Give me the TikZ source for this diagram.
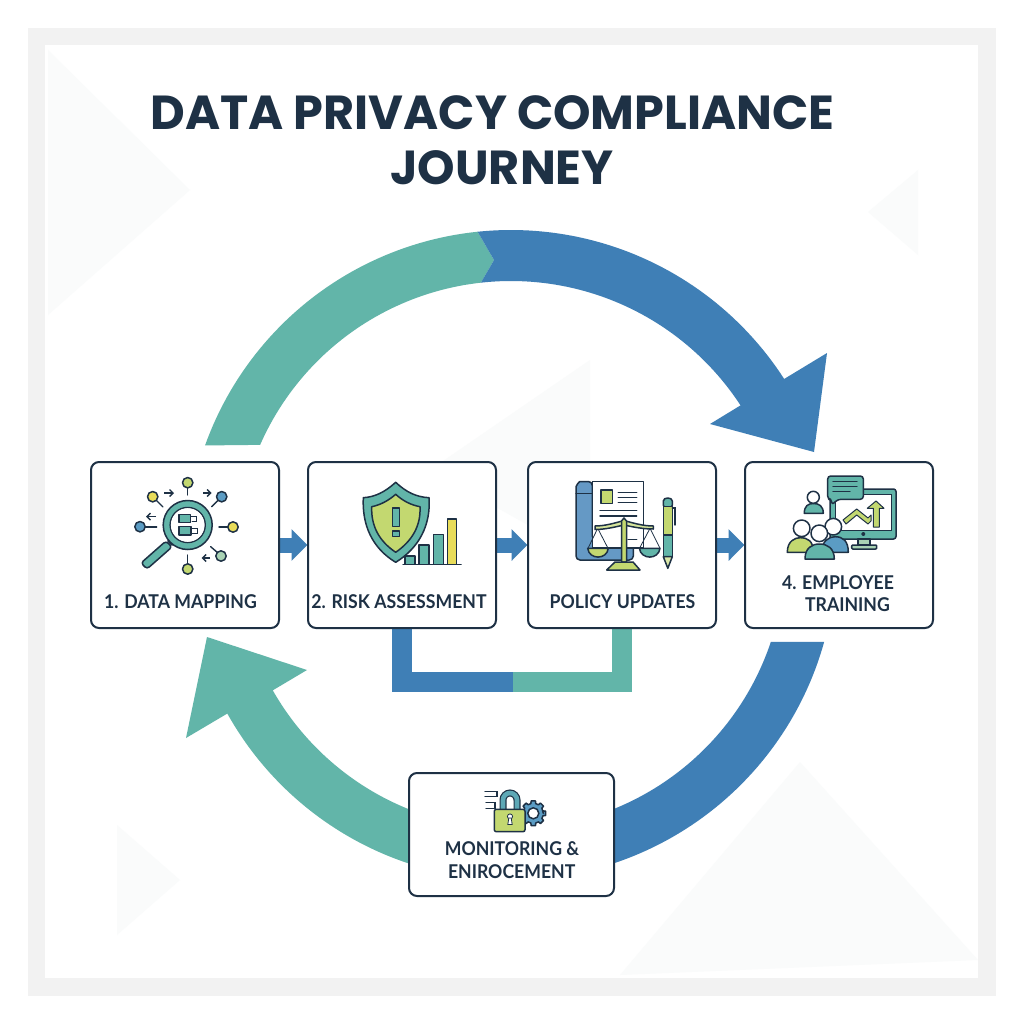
\documentclass[tikz,border=0pt]{standalone}
\usepackage{fontspec}
\setmainfont{Lato}[FakeStretch=0.93]
\newfontfamily\titlefont{Poppins}
\usetikzlibrary{arrows.meta,calc}
\pgfdeclarelayer{boxlayer}
\pgfsetlayers{main,boxlayer}
\definecolor{ink}{HTML}{1E3145}
\definecolor{tealc}{HTML}{62B5A9}
\definecolor{bluec}{HTML}{3F7FB6}
\definecolor{midblue}{HTML}{5B9CC4}
\definecolor{limec}{HTML}{C3D870}
\definecolor{yellowc}{HTML}{E8DC5A}
\definecolor{paleg}{HTML}{A9D3B4}
\definecolor{framec}{HTML}{F2F2F2}
\definecolor{ghost}{HTML}{FAFBFB}
\tikzset{
  x=1pt,y=-1pt,
  box/.style={draw=ink,line width=2pt,fill=white,rounded corners=8pt,inner sep=0pt,minimum height=166pt,minimum width=188pt},
  lab/.style={text=ink,font=\fontsize{19}{23}\selectfont\bfseries,inner sep=0pt,anchor=center},
  ttl/.style={text=ink,font=\titlefont\fontsize{47.7}{56}\selectfont\bfseries,inner sep=0pt,anchor=center},
  flow/.style={draw=bluec,line width=15pt,-{Triangle[length=16pt,width=31pt]},shorten >=-0.5pt},
  bar/.style={line width=20pt,line join=miter},
  ic/.style={draw=ink,line width=1.5pt,line join=round,line cap=round},
  lnk/.style={draw=ink,line width=1.4pt,line cap=round},
  sarr/.style={draw=ink,line width=1.4pt,-{Straight Barb[length=3.5pt,width=7pt]}}
}
\newcommand{\pinmark}[3]{\draw[ic,fill=#3] (#1,#2) circle (5.2);}
\begin{document}
\begin{tikzpicture}
\useasboundingbox (0,0) rectangle (1024,1024);
\fill[white] (0,0) rectangle (1024,1024);
\fill[framec] (28,28) rectangle (996,996);
\fill[white] (45,45) rectangle (978,978);
% faint background shapes
\fill[ghost] (48,50) -- (190,190) -- (48,315) -- cycle;
\fill[ghost] (918,170) -- (918,255) -- (868,212) -- cycle;
\fill[ghost] (800,762) -- (978,960) -- (620,975) -- cycle;
\fill[ghost] (590,360) -- (590,560) -- (430,470) -- cycle;
\fill[ghost] (117,825) -- (180,880) -- (117,935) -- cycle;
% title
\node[ttl] (title1) at (492.5,113) {DATA PRIVACY COMPLIANCE};
\node[ttl] (title2) at (502,168) {JOURNEY};
% big cycle
\def\cx{511}\def\cy{555}
\coordinate (chev) at (494,260);
\fill[tealc] plot[domain=160.3:95.9,samples=50] ({\cx+325*cos(\x)},{\cy-325*sin(\x)}) -- (chev)
  -- plot[domain=96.3:156.3,samples=50] ({\cx+274*cos(\x)},{\cy-274*sin(\x)}) -- cycle;
\fill[bluec] plot[domain=95.9:32.8,samples=50] ({\cx+325*cos(\x)},{\cy-325*sin(\x)})
  -- (827,353) -- (814,452) -- (710,424)
  -- plot[domain=33.1:96.3,samples=50] ({\cx+274*cos(\x)},{\cy-274*sin(\x)}) -- (chev) -- cycle;
\fill[bluec] plot[domain=-15.5:-78,samples=50] ({\cx+325*cos(\x)},{\cy-325*sin(\x)})
  -- plot[domain=-78:-18.5,samples=50] ({\cx+274*cos(\x)},{\cy-274*sin(\x)}) -- cycle;
\fill[tealc] plot[domain=-102:-150.8,samples=50] ({\cx+325*cos(\x)},{\cy-325*sin(\x)})
  -- (186,738) -- (207,637) -- (307,670)
  -- plot[domain=-150.4:-102,samples=50] ({\cx+274*cos(\x)},{\cy-274*sin(\x)}) -- cycle;
\begin{pgfonlayer}{boxlayer}
% boxes
\node[box] (n1) at (185,545) {};
\node[box] (n2) at (402,545) {};
\node[box] (n3) at (622,545) {};
\node[box] (n4) at (839,545) {};
\node[box,minimum width=205pt,minimum height=123pt] (n5) at (511.5,834.5) {};
\end{pgfonlayer}
% connectors
\coordinate (mid) at (513,682);
\draw[bar,draw=tealc] (n3.south) |- (mid);
\draw[bar,draw=bluec] (n2.south) |- (mid);
\draw[flow] (n1.east) -- (n2.west);
\draw[flow] (n2.east) -- (n3.west);
\draw[flow] (n3.east) -- (n4.west);
\begin{pgfonlayer}{boxlayer}
% labels
\node[lab] (t1) at (180.5,602) {1. DATA MAPPING};
\node[lab] (t2) at (399,602) {2. RISK ASSESSMENT};
\node[lab] (t3) at (622.5,602) {POLICY UPDATES};
\node[lab] (t4a) at (838,583) {4. EMPLOYEE};
\node[lab] (t4b) at (847.5,605) {TRAINING};
\node[lab] (t5a) at (512,849) {MONITORING \&};
\node[lab] (t5b) at (511.7,871.5) {ENIROCEMENT};
% --- icon 1: magnifier
\foreach \a/\b/\c/\d in {187.7/495/187.7/487,163/507/155.5/499.5,211.7/506.7/219/499.5,156.7/527/145/527,219/527/228.5/527,210.7/546.7/218/553,187.7/555/187.7/564}{
  \draw[lnk] (\a,\b) -- (\c,\d);
}
\pinmark{187.7}{482.7}{limec}
\pinmark{152.7}{496.7}{yellowc}
\pinmark{221.7}{496.7}{midblue}
\pinmark{140}{526.7}{midblue}
\pinmark{233}{527}{yellowc}
\pinmark{221}{556}{paleg}
\pinmark{187.7}{569}{limec}
\draw[sarr] (164,493) -- (174,493);
\draw[sarr] (203.3,493) -- (211.7,493);
\draw[sarr] (156,516.7) -- (146,516.7);
\draw[sarr] (210,558) -- (201.7,558);
\draw[ic,fill=tealc,rounded corners=3pt] (166,541) -- (172,547) -- (147,569) -- (141,563) -- cycle;
\draw[ic,fill=white] (168,541) -- (172,545) -- (176,542) -- (172,537) -- cycle;
\draw[ic,fill=tealc,even odd rule] (187.7,525) circle (24.5) (187.7,525) circle (17.5);
\fill[white] (187.7,525) circle (16.8);
\draw[ic,fill=tealc] (179,514.5) rectangle (190.5,522.5);
\draw[ic,fill=tealc] (179,526.5) rectangle (191,535);
\draw[lnk,line width=1pt] (191,516) -- (196,516) -- (196,521) -- (192,521);
\draw[lnk,line width=1pt] (191,528) -- (197,528) -- (197,533) -- (192,533);
% --- icon 2: shield and bars
\draw[ic,fill=tealc] (395.7,482.3) .. controls (385,492) and (375,497) .. (363.3,497.7)
  .. controls (362,525) and (372,548) .. (395.7,562.3)
  .. controls (419,548) and (431,525) .. (429,497.7)
  .. controls (416,497) and (406,492) .. (395.7,482.3) -- cycle;
\draw[ic,fill=limec] (395.7,494.3) .. controls (388,501) and (380,505) .. (371.7,506.7)
  .. controls (371,526) and (379,541) .. (395.7,552.3)
  .. controls (412,541) and (421,526) .. (420,506.7)
  .. controls (411,505) and (403,501) .. (395.7,494.3) -- cycle;
\draw[ic,fill=tealc] (392.7,508) rectangle (399.3,526.7);
\draw[ic,fill=tealc] (392.7,531) rectangle (399.3,536.7);
\draw[ic,fill=tealc] (405,556) rectangle (415,564.3);
\draw[ic,fill=tealc] (419,545) rectangle (429,564.3);
\draw[ic,fill=tealc] (433.3,534.3) rectangle (443.3,564.3);
\draw[ic,fill=yellowc] (447.3,519) rectangle (456.7,564.3);
\draw[ic] (403,564.3) -- (461,564.3);
% --- icon 3: document, scales, pen
\draw[ic,fill=bluec!80!white,rounded corners=4pt] (592.3,481.5) -- (584,481.5) .. controls (579,481.5) and (576,486) .. (576,491) -- (576,560) -- (633.3,560) -- (633.3,540) -- (592.3,540) -- cycle;
\draw[ic] (576,493.3) -- (592.3,493.3);
\draw[ic,fill=white] (592.3,481.7) rectangle (643.3,548);
\draw[ic,fill=limec] (601,490) rectangle (612.7,503.3);
\foreach \yy in {492.7,497.7,502.7}{\draw[lnk] (618.3,\yy) -- (636.7,\yy);}
\foreach \yy in {510.7,516}{\draw[lnk] (600,\yy) -- (636.7,\yy);}
\draw[lnk] (628,539.3) -- (636.7,539.3);
\draw[lnk,line width=.8pt] (597.7,528.3) -- (588,548.3) (597.7,528.3) -- (608,548.3);
\draw[lnk,line width=.8pt] (650,528.3) -- (639.5,548.3) (650,528.3) -- (660,548.3);
\draw[ic,fill=limec] (587.7,548.3) .. controls (589,560) and (607,560) .. (608.3,548.3) -- cycle;
\draw[ic,fill=tealc] (639.3,548.3) .. controls (641,560) and (658.5,560) .. (660,548.3) -- cycle;
\draw[ic,fill=limec!70!white] (595,526) .. controls (605,526) and (615,523) .. (624,520.5) .. controls (633,523) and (643,526) .. (653.3,526) -- (653.3,529) .. controls (643,529) and (633,527) .. (624,525) .. controls (615,527) and (605,529.5) .. (595,529.5) -- cycle;
\draw[ic,fill=limec] (621.5,521) -- (624,518) -- (626.5,521) -- (626.5,562) -- (621.5,562) -- cycle;
\draw[ic,fill=limec] (615,562) -- (633,562) -- (640,570) -- (606.7,570) -- cycle;
\draw[ic,fill=tealc,rounded corners=2pt] (663.3,503) .. controls (663.3,497) and (672.3,497) .. (672.3,503) -- (672.3,507) -- (663.3,507) -- cycle;
\draw[ic,fill=limec] (663.3,506.7) rectangle (672.3,535);
\draw[ic,fill=tealc] (663.3,535) rectangle (672.3,556.7);
\draw[ic,fill=limec!60!white] (663.3,556.7) -- (672.3,556.7) -- (667.8,568.3) -- cycle;
\draw[lnk] (672.3,508) -- (675,508) -- (675,525);
% --- icon 4: training
\draw[ic,fill=tealc,rounded corners=2.5pt] (830,489) rectangle (896,539);
\fill[white] (835,494.3) rectangle (891,530);
\draw[lnk,line width=.9pt] (835,494.3) rectangle (891,530);
\draw[ic,fill=white] (863.3,534) circle (1.4);
\draw[ic,fill=paleg] (858,539) rectangle (870,545);
\draw[ic,fill=paleg,rounded corners=1pt] (851.7,545) rectangle (876.7,549);
\draw[ic,fill=tealc,rounded corners=3pt] (827.7,476) -- (863.3,476) -- (863.3,499.3) -- (838,499.3) -- (831.7,505) -- (831.7,499.3) -- (827.7,499.3) -- cycle;
\draw[lnk] (833,481.7) -- (857,481.7) (833,486.7) -- (857,486.7) (833,491.7) -- (850,491.7);
\draw[ic,fill=limec,line width=1pt] (843,520) -- (856.7,509) -- (868,518) -- (871,515) -- (871,521) -- (868,524) -- (856.7,515) -- (846,524) -- cycle;
\draw[ic,fill=limec,line width=1pt] (876,501) -- (884,508.3) -- (879.3,508.3) -- (879.3,527) -- (873.3,527) -- (873.3,508.3) -- (867.3,508.3) -- cycle;
\draw[ic,fill=tealc] (804.3,513.3) .. controls (804.3,506) and (808,503.5) .. (813.5,503.5) .. controls (819,503.5) and (823.3,506) .. (823.3,513.3) -- cycle;
\draw[ic,fill=white] (813.3,497.3) circle (6);
\draw[ic,fill=limec] (787.3,552.3) .. controls (787.3,541) and (795,537.7) .. (800,537.7) .. controls (808,537.7) and (813.3,541) .. (813.3,552.3) -- cycle;
\draw[ic,fill=white] (801.7,528.3) circle (8.3);
\draw[ic,fill=midblue] (821.7,552.3) .. controls (821.7,541) and (829,536.7) .. (835,536.7) .. controls (843,536.7) and (848.3,541) .. (848.3,552.3) -- cycle;
\draw[ic,fill=white] (833.3,526.7) circle (8.3);
\draw[ic,fill=tealc] (805,559) .. controls (805,548) and (812,544) .. (819.5,544) .. controls (827,544) and (834.3,548) .. (834.3,559) -- cycle;
\draw[ic,fill=white] (819.3,533.3) circle (8.3);
% --- icon 5: lock and gear
\draw[ic,fill=midblue] (533.3,813.3) +(0:10) \foreach \t in {0,45,...,315}{
  -- ($(533.3,813.3)+(\t-14:10)$) -- ($(533.3,813.3)+(\t-10:12.5)$) -- ($(533.3,813.3)+(\t+10:12.5)$) -- ($(533.3,813.3)+(\t+14:10)$)} -- cycle;
\draw[ic,fill=white] (533.3,813.3) circle (5.5);
\draw[line width=7pt,draw=ink] (503,810) -- (503,800) arc[start angle=180,end angle=0,x radius=7,y radius=-7] -- (517,810);
\draw[line width=4.6pt,draw=midblue!50!tealc] (503,810) -- (503,800) arc[start angle=180,end angle=0,x radius=7,y radius=-7] -- (517,810);
\draw[lnk] (485,791.7) -- (497,791.7) -- (497,796.7) -- (485,796.7);
\draw[lnk] (486,802.7) -- (495,802.7) -- (495,808.3) -- (486,808.3);
\draw[ic,fill=limec,rounded corners=2pt] (494.3,809.3) rectangle (525,831.7);
\draw[ink,line width=.8pt,fill=white] (510,816.5) circle (2.6);
\draw[ink,line width=.8pt,fill=white] (508.8,818) -- (507.8,824.5) -- (512.2,824.5) -- (511.2,818) -- cycle;
\end{pgfonlayer}
\end{tikzpicture}
\end{document}
